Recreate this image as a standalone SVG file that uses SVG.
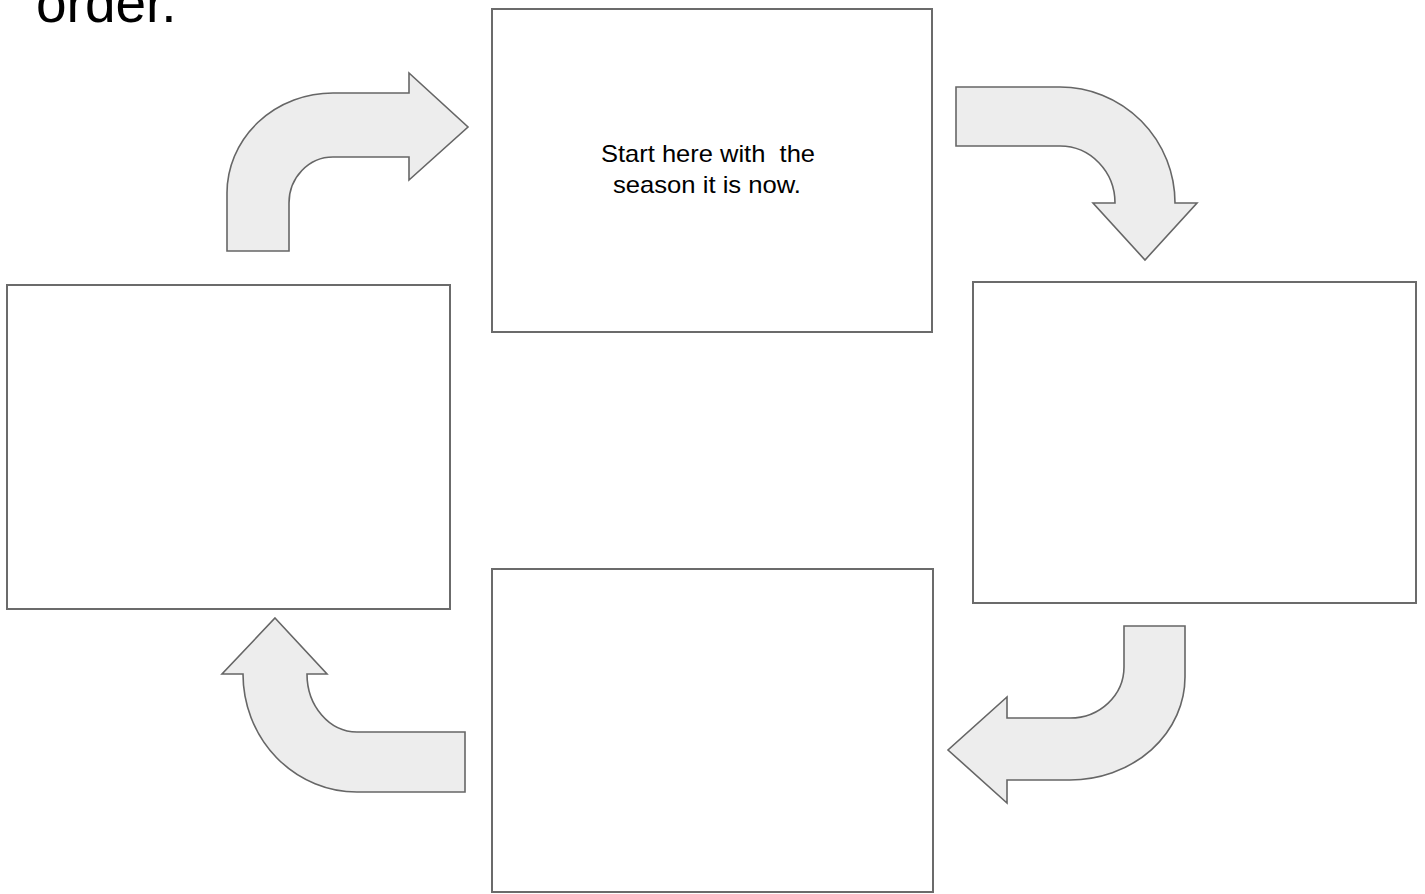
<svg xmlns="http://www.w3.org/2000/svg" width="1425" height="894" viewBox="0 0 1425 894">
<style>
.box{fill:#ffffff;stroke:#6b6b6b;stroke-width:2}
.arrow{fill:#ededed;stroke:#666666;stroke-width:1.6;stroke-linejoin:miter}
.title{font-family:"Liberation Sans",Arial,sans-serif;font-size:55px;fill:#000000}
.label{font-family:"Liberation Sans",Arial,sans-serif;font-size:24px;fill:#000000;text-anchor:middle;white-space:pre}
</style>
<rect width="1425" height="894" fill="#ffffff"/>
<text class="title" x="36" y="22">order.</text>
<g id="node-top">
<rect class="box" x="492" y="9" width="440" height="323"/>
<text class="label" x="708" y="162" xml:space="preserve" textLength="214" lengthAdjust="spacingAndGlyphs">Start here with  the</text>
<text class="label" x="707" y="193" textLength="188" lengthAdjust="spacingAndGlyphs">season it is now.</text>
</g>
<g id="node-right">
<rect class="box" x="973" y="282" width="443" height="321"/>
</g>
<g id="node-bottom">
<rect class="box" x="492" y="569" width="441" height="323"/>
</g>
<g id="node-left">
<rect class="box" x="7" y="285" width="443" height="324"/>
</g>
<g id="connectors">
<path class="arrow" d="M227,251 L227,193 A106,100 0 0 1 333,93 L409,93 L409,73 L468,127 L409,180 L409,157 L333,157 A44,46 0 0 0 289,203 L289,251 Z"/>
<path class="arrow" d="M956,87 L1060,87 A115,116 0 0 1 1175,203 L1197,203 L1145,260 L1093,203 L1115,203 A55,57 0 0 0 1060,146 L956,146 Z"/>
<path class="arrow" d="M1124,626 L1185,626 L1185,677 A115,103 0 0 1 1070,780 L1007,780 L1007,803 L948,750 L1007,697 L1007,718 L1070,718 A54,51 0 0 0 1124,667 Z"/>
<path class="arrow" d="M275,618 L327,674 L307,674 A50,58 0 0 0 357,732 L465,732 L465,792 L357,792 A114,118 0 0 1 243,674 L222,674 Z"/>
</g>
</svg>
